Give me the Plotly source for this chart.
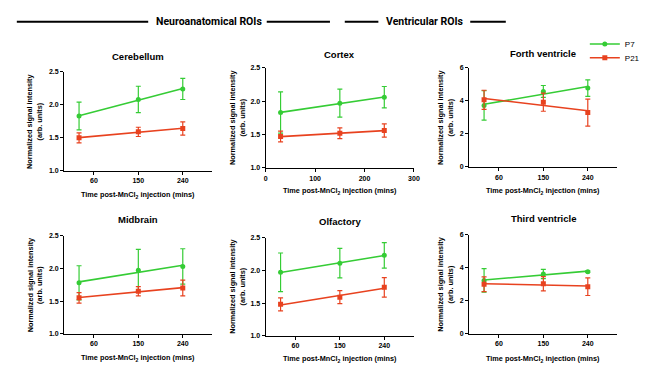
import numpy as np
import plotly.graph_objects as go

W, H = 658, 380

times = [30, 150, 240]
regions = ["Cerebellum", "Cortex", "Forth ventricle", "Midbrain", "Olfactory", "Third ventricle"]

cerebellum_p7 = [1.83, 2.08, 2.24]
cerebellum_p7_sd = [0.21, 0.20, 0.16]
cerebellum_p21 = [1.50, 1.59, 1.64]
cerebellum_p21_sd = [0.075, 0.07, 0.10]

cortex_p7 = [1.83, 1.97, 2.06]
cortex_p7_sd = [0.31, 0.21, 0.16]
cortex_p21 = [1.47, 1.52, 1.56]
cortex_p21_sd = [0.08, 0.08, 0.10]

forth_p7 = [3.72, 4.57, 4.77]
forth_p7_sd = [0.89, 0.36, 0.50]
forth_p21 = [4.06, 3.92, 3.29]
forth_p21_sd = [0.58, 0.55, 0.82]

midbrain_p7 = [1.78, 1.97, 2.03]
midbrain_p7_sd = [0.26, 0.32, 0.27]
midbrain_p21 = [1.55, 1.65, 1.70]
midbrain_p21_sd = [0.08, 0.07, 0.12]

olfactory_p7 = [1.97, 2.11, 2.23]
olfactory_p7_sd = [0.295, 0.225, 0.195]
olfactory_p21 = [1.48, 1.59, 1.74]
olfactory_p21_sd = [0.10, 0.10, 0.15]

third_p7 = [3.23, 3.62, 3.76]
third_p7_sd = [0.71, 0.28, 0.05]
third_p21 = [3.00, 3.03, 2.85]
third_p21_sd = [0.45, 0.43, 0.53]

series = [
    (cerebellum_p7, cerebellum_p7_sd, cerebellum_p21, cerebellum_p21_sd),
    (cortex_p7, cortex_p7_sd, cortex_p21, cortex_p21_sd),
    (forth_p7, forth_p7_sd, forth_p21, forth_p21_sd),
    (midbrain_p7, midbrain_p7_sd, midbrain_p21, midbrain_p21_sd),
    (olfactory_p7, olfactory_p7_sd, olfactory_p21, olfactory_p21_sd),
    (third_p7, third_p7_sd, third_p21, third_p21_sd),
]

brain_yticks = [1.0, 1.5, 2.0, 2.5]
vent_yticks = [0, 2, 4, 6]
time_ticks = [60, 150, 240]
cortex_ticks = [0, 100, 200, 300]

GREEN = "#35cc35"
RED = "#e8421f"
FONT = "Liberation Sans, Arial, sans-serif"

# pixel boxes: (left, right, top, bottom)
boxes = [
    (63, 213, 69, 170),
    (267, 417, 65, 167),
    (473, 623, 65, 166),
    (63, 213, 236, 336),
    (267, 417, 238, 338),
    (473, 623, 235, 336),
]
title_y = [53, 51, 50, 220, 222, 219]
xtitle_y = [195, 191, 191, 361, 362, 362]
ytitle_x = [33, 238, 449, 33, 238, 449]

def px(x):
    return x / W

def py(y):
    return 1 - y / H

fig = go.Figure()
legend_common = dict(xanchor="left", yanchor="top", font=dict(size=8, family=FONT),
                     bgcolor="rgba(0,0,0,0)")
layout = dict(
    width=W, height=H, margin=dict(l=0, r=0, t=0, b=0),
    paper_bgcolor="white", plot_bgcolor="white",
    font=dict(family=FONT, color="black"),
    showlegend=True,
    legend=dict(x=px(590), y=py(26), **legend_common),
    legend2=dict(x=px(590), y=py(40), **legend_common),
)
annotations = []
shapes = []

for i, (name, (p7, p7sd, p21, p21sd)) in enumerate(zip(regions, series)):
    n = i + 1
    xa = "x" if n == 1 else f"x{n}"
    ya = "y" if n == 1 else f"y{n}"
    l, r, t, b = boxes[i]
    vent = "ventricle" in name
    for vals, sd, col, sym in [(p7, p7sd, GREEN, "circle"), (p21, p21sd, RED, "square")]:
        coef = np.polyfit(times, vals, 1)
        fx = [times[0], times[-1]]
        fy = list(np.polyval(coef, fx))
        fig.add_trace(go.Scatter(x=fx, y=fy, mode="lines", xaxis=xa, yaxis=ya,
                                 line=dict(color=col, width=1.6), showlegend=False,
                                 hoverinfo="skip"))
        fig.add_trace(go.Scatter(x=times, y=vals, mode="markers", xaxis=xa, yaxis=ya,
                                 marker=dict(color=col, symbol=sym, size=5),
                                 error_y=dict(type="data", array=sd, visible=True,
                                              color=col, thickness=1.2, width=2.5),
                                 showlegend=False))
    if name == "Cortex":
        xt = dict(tickvals=cortex_ticks, ticktext=[str(v) for v in cortex_ticks])
    else:
        xt = dict(tickvals=time_ticks, ticktext=[str(v) for v in time_ticks])
    if vent:
        yt = dict(tickvals=vent_yticks, ticktext=[str(v) for v in vent_yticks], range=[0, 6])
    else:
        yt = dict(tickvals=brain_yticks, ticktext=[f"{v:.1f}" for v in brain_yticks], range=[1.0, 2.5])
    common = dict(showgrid=False, zeroline=False, showline=True, linecolor="black",
                  linewidth=1.4, ticks="outside", ticklen=3, tickwidth=1, tickcolor="black",
                  tickfont=dict(size=7, family=FONT, weight="bold"), fixedrange=True)
    layout["xaxis" if n == 1 else f"xaxis{n}"] = dict(
        domain=[px(l), px(r)], anchor=ya, range=[0, 300], **xt, **common)
    layout["yaxis" if n == 1 else f"yaxis{n}"] = dict(
        domain=[py(b), py(t)], anchor=xa, **yt, **common)
    cx = (l + r) / 2
    annotations.append(dict(text=f"<b>{name}</b>", x=px(cx), y=py(title_y[i]),
                            xref="paper", yref="paper", showarrow=False,
                            font=dict(size=9.5, family=FONT), xanchor="center", yanchor="middle"))
    annotations.append(dict(text="<b>Time post-MnCl<sub>2</sub> injection (mins)</b>",
                            x=px(cx), y=py(xtitle_y[i]), xref="paper", yref="paper",
                            showarrow=False, font=dict(size=7.3, family=FONT),
                            xanchor="center", yanchor="middle"))
    annotations.append(dict(text="<b>Normalized signal intensity<br>(arb. units)</b>",
                            x=px(ytitle_x[i]), y=py((t + b) / 2), xref="paper", yref="paper",
                            showarrow=False, textangle=-90, font=dict(size=7.3, family=FONT),
                            xanchor="center", yanchor="middle"))

# legend entries
fig.add_trace(go.Scatter(x=[None], y=[None], mode="lines+markers", name="P7",
                         line=dict(color=GREEN, width=1.6), legend="legend",
                         marker=dict(color=GREEN, symbol="circle", size=5)))
fig.add_trace(go.Scatter(x=[None], y=[None], mode="lines+markers", name="P21",
                         line=dict(color=RED, width=1.6), legend="legend2",
                         marker=dict(color=RED, symbol="square", size=5)))

# section headers
HEAD_FONT = "Roboto, sans-serif"
annotations.append(dict(text="<b>Neuroanatomical ROIs</b>", x=px(210), y=py(18),
                        xref="paper", yref="paper", showarrow=False,
                        font=dict(size=10.5, family=HEAD_FONT), xanchor="center", yanchor="middle"))
annotations.append(dict(text="<b>Ventricular ROIs</b>", x=px(428), y=py(18),
                        xref="paper", yref="paper", showarrow=False,
                        font=dict(size=10.5, family=HEAD_FONT), xanchor="center", yanchor="middle"))
for x0, x1 in [(15, 148), (268, 332), (347, 381), (474, 510)]:
    shapes.append(dict(type="line", xref="paper", yref="paper", x0=px(x0), x1=px(x1),
                       y0=py(18), y1=py(18), line=dict(color="black", width=2)))

layout["annotations"] = annotations
layout["shapes"] = shapes
fig.update_layout(**layout)
fig.write_html("out.html", config={"displayModeBar": False},
               post_script="document.body.style.margin='0px';")
